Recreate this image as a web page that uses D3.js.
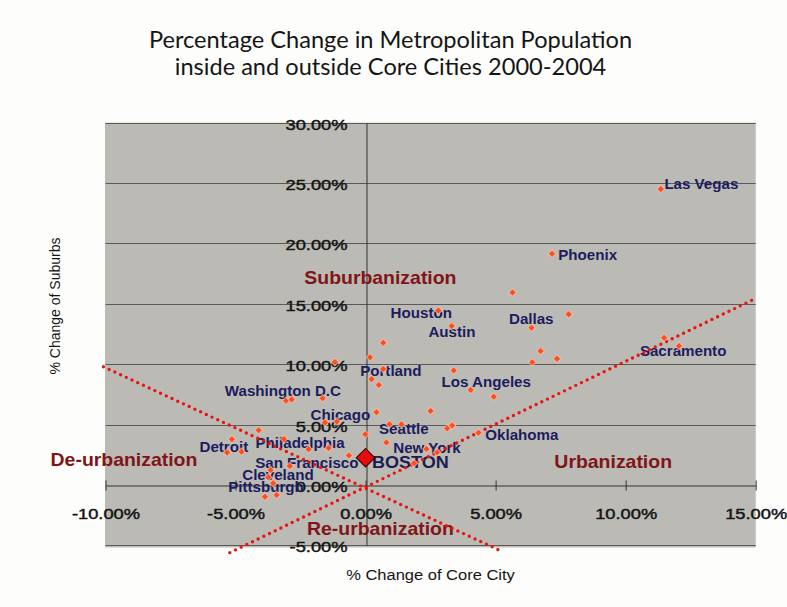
<!DOCTYPE html>
<html>
<head>
<meta charset="utf-8">
<title>Metropolitan Population Change</title>
<style>
  body { margin: 0; background: #fff; }
  svg { display: block; }
</style>
</head>
<body>
<script src="https://d3js.org/d3.v7.min.js"></script>
<script>

var width = 787,
    height = 607;

// % change 2000-2004 : core city (x) vs suburbs (y)
var coreChange = [11.35, 7.17, 5.65, 2.80, 3.31, 6.38, 7.81, 0.68, 6.73, 7.36,
                  6.41, 11.48, 12.05, 3.39, 0.17, -1.18, 0.68, 0.23, 0.51, 4.04,
                  4.93, -1.65, -3.06, -2.84, 0.42, 2.50, 0.92, 1.38, 3.14, 3.33,
                  4.34, -0.01, 0.80, 2.34, 2.75, 1.86, -1.56, -1.10, -4.11, -5.14,
                  -5.32, -4.77, -3.14, -2.19, -1.42, -0.64, -2.91, -3.65, -3.74, -3.55,
                  -3.87, -3.42];
var suburbChange = [24.50, 19.15, 15.94, 14.45, 13.16, 13.02, 14.13, 11.78, 11.09, 10.46,
                    10.16, 12.19, 11.51, 9.48, 10.57, 10.18, 9.60, 8.77, 8.28, 7.86,
                    7.31, 7.18, 6.98, 7.09, 6.02, 6.13, 5.03, 5.03, 4.69, 4.93,
                    4.33, 4.20, 3.52, 2.98, 2.71, 1.80, 5.17, 5.26, 4.54, 3.79,
                    2.69, 2.76, 3.81, 2.96, 3.06, 2.44, 1.57, 1.24, 0.64, 0.14,
                    -0.97, -0.83];

var bostonCore = 0.00,
    bostonSuburb = 2.26;

// city labels, centre of each label in % units
var cityNames = ["Las Vegas", "Phoenix", "Houston", "Austin", "Dallas", "Sacramento",
                 "Portland", "Los Angeles", "Washington D.C", "Chicago", "Seattle",
                 "Oklahoma", "New York", "Detroit", "Philadelphia", "San Francisco",
                 "Cleveland", "Pittsburgh"];
var cityLabelX = [12.91, 8.54, 2.14, 3.32, 6.37, 12.21, 0.97, 4.64, -3.18, -0.97, 1.47,
                  6.01, 2.36, -5.45, -2.52, -2.26, -3.37, -3.83];
var cityLabelY = [24.92, 19.04, 14.21, 12.67, 13.74, 11.12, 9.46, 8.50, 7.78, 5.79, 4.64,
                  4.14, 3.04, 3.17, 3.48, 1.85, 0.83, -0.17];

var quadrantNames = ["Suburbanization", "De-urbanization", "Urbanization", "Re-urbanization"];
var quadrantX = [0.57, -9.29, 9.52, 0.57];
var quadrantY = [17.14, 2.15, 1.93, -3.62];

var xTicks = [-10, -5, 0, 5, 10, 15];
var yTicks = [-5, 0, 5, 10, 15, 20, 25, 30];

// dotted guide lines (end points in % units)
var guideLines = [
    [[-10.08, 9.79], [5.19, -5.44]],
    [[-5.22, -5.60], [14.92, 15.37]]
];

var x = d3.scaleLinear().domain([-10, 15]).range([105.5, 755.7]),
    y = d3.scaleLinear().domain([-5, 30]).range([545.4, 122.7]),
    fmt = function(d) { return d.toFixed(2) + "%"; };

var svg = d3.select("body").append("svg")
    .attr("width", width)
    .attr("height", height);

svg.append("rect")
    .attr("width", width).attr("height", height)
    .attr("fill", "#fdfdfb");

// title
svg.append("g")
    .attr("font-family", "Lato, 'Open Sans', sans-serif")
    .attr("font-size", 23.6)
    .attr("fill", "#151515")
    .attr("text-anchor", "middle")
  .selectAll("text")
  .data(["Percentage Change in Metropolitan Population", "inside and outside Core Cities 2000-2004"])
  .join("text")
    .attr("x", 390.5)
    .attr("y", function(d, i) { return 48 + i * 27; })
    .text(function(d) { return d; });

// plot background
svg.append("rect")
    .attr("x", x.range()[0] - 0.5)
    .attr("y", y(30))
    .attr("width", x.range()[1] - x.range()[0] + 0.5)
    .attr("height", y(-5) - y(30) + 2)
    .attr("fill", "#bbbab4");

// gridlines
svg.append("g").selectAll("line")
  .data(yTicks.filter(function(d) { return d !== 0; }))
  .join("line")
    .attr("x1", x.range()[0]).attr("x2", x.range()[1])
    .attr("y1", function(d) { return Math.round(y(d)) + 0.5; })
    .attr("y2", function(d) { return Math.round(y(d)) + 0.5; })
    .attr("stroke", "#5a5a58")
    .attr("stroke-width", 1);

// x axis
var xAxis = svg.append("g")
    .attr("transform", "translate(0," + (Math.round(y(0)) + 0.5) + ")")
    .call(d3.axisBottom(x).tickValues(xTicks).tickFormat(fmt).tickSize(5).tickSizeOuter(0));
xAxis.select(".domain").attr("stroke", "#333");
xAxis.selectAll(".tick line").attr("y1", -5).attr("stroke", "#333");
xAxis.selectAll(".tick text")
    .attr("y", 34).attr("dy", null)
    .attr("font-family", "Arial, 'Liberation Sans', sans-serif")
    .attr("font-size", 15)
    .attr("fill", "#151515")
    .attr("stroke", "#151515").attr("stroke-width", 0.45)
    .attr("transform", "scale(1.22,1)");

// y axis
var yAxis = svg.append("g")
    .attr("transform", "translate(" + (Math.round(x(0)) + 0.5) + ",0)")
    .call(d3.axisLeft(y).tickValues(yTicks).tickFormat(fmt).tickSize(0).tickSizeOuter(0));
yAxis.select(".domain").attr("stroke", "#333");
yAxis.selectAll(".tick text")
    .attr("x", 0).attr("y", 6.5).attr("dy", null)
    .attr("font-family", "Arial, 'Liberation Sans', sans-serif")
    .attr("font-size", 15)
    .attr("fill", "#151515")
    .attr("stroke", "#151515").attr("stroke-width", 0.45)
    .attr("transform", "translate(-19,0) scale(1.22,1)");

// axis titles
svg.append("text")
    .attr("transform", "translate(430.5,580) scale(1.1,1)")
    .attr("text-anchor", "middle")
    .attr("font-family", "Arial, 'Liberation Sans', sans-serif")
    .attr("font-size", 15)
    .attr("fill", "#151515")
    .text("% Change of Core City");

svg.append("text")
    .attr("transform", "translate(60,306) rotate(-90)")
    .attr("text-anchor", "middle")
    .attr("font-family", "Arial, 'Liberation Sans', sans-serif")
    .attr("font-size", 14)
    .attr("fill", "#151515")
    .text("% Change of Suburbs");

// city labels
svg.append("g").selectAll("text")
  .data(cityNames)
  .join("text")
    .attr("transform", function(d, i) {
        return "translate(" + x(cityLabelX[i]) + "," + y(cityLabelY[i]) + ") scale(1.08,1)"; })
    .attr("text-anchor", "middle")
    .attr("dy", "0.36em")
    .attr("font-family", "Arial, 'Liberation Sans', sans-serif")
    .attr("font-weight", "bold")
    .attr("font-size", 14)
    .attr("fill", "#1c1c5e")
    .text(function(d) { return d; });

svg.append("text")
    .attr("transform", "translate(" + x(1.72) + "," + y(1.93) + ") scale(1.06,1)")
    .attr("text-anchor", "middle")
    .attr("dy", "0.36em")
    .attr("font-family", "Arial, 'Liberation Sans', sans-serif")
    .attr("font-weight", "bold")
    .attr("font-size", 17)
    .attr("fill", "#1c1c50")
    .text("BOSTON");

// quadrant labels
svg.append("g").selectAll("text")
  .data(quadrantNames)
  .join("text")
    .attr("transform", function(d, i) {
        return "translate(" + x(quadrantX[i]) + "," + y(quadrantY[i]) + ") scale(1.08,1)"; })
    .attr("text-anchor", "middle")
    .attr("dy", "0.36em")
    .attr("font-family", "Arial, 'Liberation Sans', sans-serif")
    .attr("font-weight", "bold")
    .attr("font-size", 18)
    .attr("fill", "#801518")
    .text(function(d) { return d; });

// dotted guide lines
var line = d3.line()
    .x(function(d) { return x(d[0]); })
    .y(function(d) { return y(d[1]); });

svg.append("g").selectAll("path")
  .data(guideLines)
  .join("path")
    .attr("d", line)
    .attr("fill", "none")
    .attr("stroke", "#e8140f")
    .attr("stroke-width", 3.4)
    .attr("stroke-linecap", "round")
    .attr("stroke-dasharray", "0 6.3");

// city points
var diamond = d3.symbol().type(d3.symbolSquare).size(28);

svg.append("g").selectAll("path")
  .data(coreChange)
  .join("path")
    .attr("d", diamond)
    .attr("transform", function(d, i) {
        return "translate(" + x(d) + "," + y(suburbChange[i]) + ") rotate(45)"; })
    .attr("fill", "#ff4e1c")
    .attr("stroke", "#f3d6cc")
    .attr("stroke-opacity", 0.6)
    .attr("stroke-width", 1);

// Boston
svg.append("path")
    .attr("d", d3.symbol().type(d3.symbolSquare).size(170))
    .attr("transform", "translate(" + x(bostonCore) + "," + y(bostonSuburb) + ") rotate(45)")
    .attr("fill", "#e80d0d")
    .attr("stroke", "#3a0a0a")
    .attr("stroke-width", 1.2);

</script>
</body>
</html>
